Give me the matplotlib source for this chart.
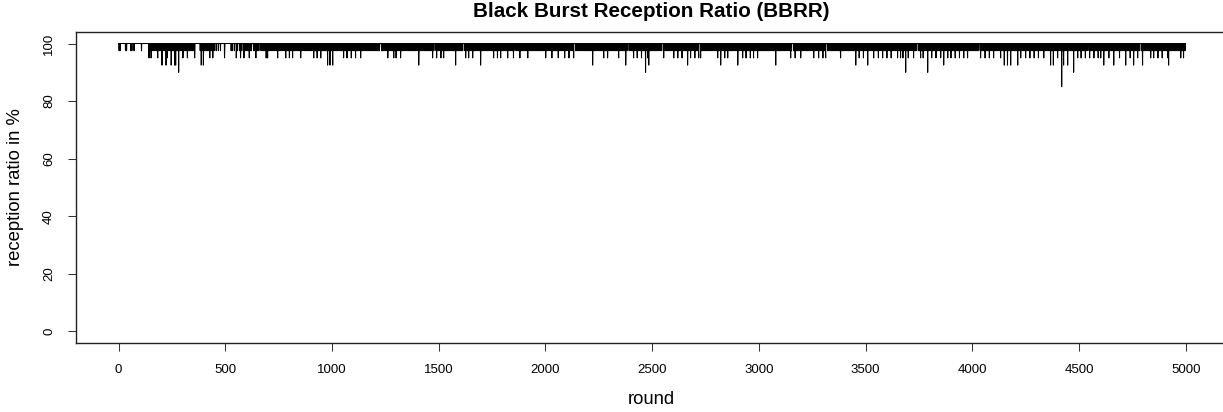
import numpy as np
import matplotlib
matplotlib.use("Agg")
import matplotlib.pyplot as plt

plt.rcParams["font.family"] = ["Liberation Sans", "DejaVu Sans"]

N_ROUNDS = 5000
BIN = 5  # rounds per character in the band string

# 97.5 % dips, one char per 5 rounds ('1' = a dip somewhere in that bin), one line per 100 rounds
band_975 = "".join([
    "11000011000110100000",
    "01000000111111111111",
    "11111111111111111111",
    "11111111111100001111",
    "11111111110101010001",
    "00000110101101110111",
    "11111011111101111111",
    "11111111111111111111",
    "11111111110111111111",
    "11111111111111111111",
    "11111111111111011111",
    "11111111111111111111",
    "11111011111111111111",
    "11111111111111111111",
    "11111111111111110111",
    "11111111111111111111",
    "11101111111111111111",
    "11111111111111111111",
    "11111111111011111111",
    "11111111111111111111",
    "11111111111111111111",
    "11111110111111111111",
    "11111111111111111111",
    "11111111111111111011",
    "11111111111111111111",
    "11111111101111111111",
    "11111111111111111111",
    "11110111111111111111",
    "11111111111111111111",
    "11111111111111101111",
    "11111111111111111111",
    "11111111111011111111",
    "11111111111111111111",
    "11101111111111111111",
    "11111111111111111111",
    "11111111111111110111",
    "11111111111111111111",
    "11111111011111111111",
    "11111111111111111111",
    "11111111111111111111",
    "11111101111111111111",
    "11111111111111111111",
    "11111111111111011111",
    "11111111111111111111",
    "11111111111111111111",
    "11111111101111111111",
    "11111111111111111111",
    "11111111111111111011",
    "11111111111111111111",
    "11111111111111111111",
])

# deeper dips (round, reception ratio in %)
dip_rounds = [
    142, 152, 183, 203, 222, 227, 246, 262, 267, 281, 301, 322, 356, 387, 397,
    427, 441, 496, 551, 571, 587, 612, 643, 691, 698,
    745, 783, 800, 815, 853, 914, 930, 947, 979, 990, 1003, 1054, 1070, 1090,
    1110, 1134, 1261, 1289, 1300, 1321, 1406, 1471, 1490, 1510, 1523, 1579,
    1626, 1640, 1659, 1696, 1757, 1775, 1790, 1823, 1850, 1880, 1917, 2001,
    2030, 2060, 2090, 2110, 2132, 2221, 2273, 2291, 2343, 2376, 2413, 2430,
    2450, 2469, 2479, 2484, 2554, 2601, 2620, 2640, 2666, 2680, 2700, 2718,
    2727, 2807, 2821, 2840, 2854, 2901, 2924, 2940, 2960, 2975, 2994, 3079,
    3149, 3170, 3196, 3257, 3280, 3300, 3313, 3383, 3454, 3470, 3490, 3510,
    3538, 3560, 3580, 3600, 3620, 3650, 3664, 3675, 3688, 3700, 3725, 3758,
    3770, 3791, 3810, 3830, 3852, 3866, 3885, 3900, 3920, 3940, 3960, 3978,
    4039, 4060, 4080, 4100, 4133, 4150, 4165, 4180, 4213, 4227, 4250, 4270,
    4290, 4310, 4335, 4367, 4380, 4400, 4419, 4428, 4447, 4475, 4494, 4510,
    4530, 4550, 4570, 4590, 4602, 4616, 4640, 4663, 4690, 4719, 4740, 4756,
    4775, 4798, 4836, 4850, 4870, 4890, 4916, 4920, 4977, 4990,
]
dip_values = [
    95, 95, 95, 92.5, 92.5, 95, 92.5, 92.5, 92.5, 90, 95, 95, 95, 92.5, 92.5,
    95, 95, 95, 95, 95, 95, 95, 95, 95, 95,
    95, 95, 95, 95, 95, 95, 95, 95, 92.5, 92.5, 92.5, 95, 95, 95,
    95, 95, 95, 95, 95, 95, 92.5, 95, 95, 95, 95, 92.5,
    95, 95, 95, 92.5, 95, 95, 95, 95, 95, 95, 95, 95,
    95, 95, 95, 95, 95, 92.5, 95, 95, 95, 92.5, 95, 95,
    95, 90, 95, 92.5, 95, 95, 95, 95, 92.5, 95, 95, 95,
    95, 95, 92.5, 95, 95, 92.5, 95, 95, 95, 95, 95, 92.5,
    95, 95, 95, 95, 95, 95, 95, 95, 92.5, 95, 95, 92.5,
    95, 95, 95, 95, 95, 95, 95, 95, 90, 95, 95, 95,
    95, 90, 95, 95, 95, 92.5, 95, 95, 95, 95, 95, 95,
    95, 95, 95, 95, 95, 92.5, 92.5, 92.5, 92.5, 95, 95, 95,
    95, 95, 95, 92.5, 92.5, 95, 85, 92.5, 92.5, 90, 95, 95,
    95, 95, 95, 95, 95, 92.5, 95, 92.5, 95, 92.5, 95, 92.5,
    95, 92.5, 95, 95, 95, 95, 95, 92.5, 95, 95,
]

x_ticks = list(range(0, 5001, 500))
y_ticks = [0, 20, 40, 60, 80, 100]


def build_series():
    rounds = np.arange(N_ROUNDS)
    ratio = np.full(N_ROUNDS, 100.0)
    for i, c in enumerate(band_975):
        if c == "1":
            ratio[i * BIN + 2] = 97.5
    for r, v in zip(dip_rounds, dip_values):
        ratio[r] = v
    return rounds, ratio


def main() -> None:
    rounds, ratio = build_series()

    fig = plt.figure(figsize=(12.23, 4.12), dpi=100)
    # plot region runs past the right edge of the picture, as in the original
    ax = fig.add_axes([76 / 1223, 69 / 412, 1162 / 1223, 311 / 412])
    ax.plot(rounds, ratio, color="black", linewidth=0.75)

    # same data scale as before: 0 -> px 118, 5000 -> px 1185
    ax.set_xlim(-200, -200 + 1162 / 0.2134)
    ax.set_ylim(-4, 104)
    ax.set_xticks(x_ticks)
    ax.set_yticks(y_ticks)
    ax.tick_params(axis="both", direction="out", length=6, width=0.75,
                   labelsize=9.5, pad=9, color="#333333")
    for lbl in ax.get_yticklabels():
        lbl.set_rotation(90)
        lbl.set_verticalalignment("center")
    for s in ax.spines.values():
        s.set_linewidth(1.0)
        s.set_color("#222222")

    ax.set_title("Black Burst Reception Ratio (BBRR)", fontsize=14.9,
                 fontweight="bold", pad=11, x=(651 - 76) / 1162)
    ax.set_xlabel("round", fontsize=13.3)
    ax.xaxis.set_label_coords((651 - 76) / 1162, -0.155)
    ax.set_ylabel("reception ratio in %", fontsize=13.3)
    ax.yaxis.set_label_coords(-0.045, 0.5)

    fig.savefig("out.png", dpi=100)
    plt.close(fig)


if __name__ == "__main__":
    main()
